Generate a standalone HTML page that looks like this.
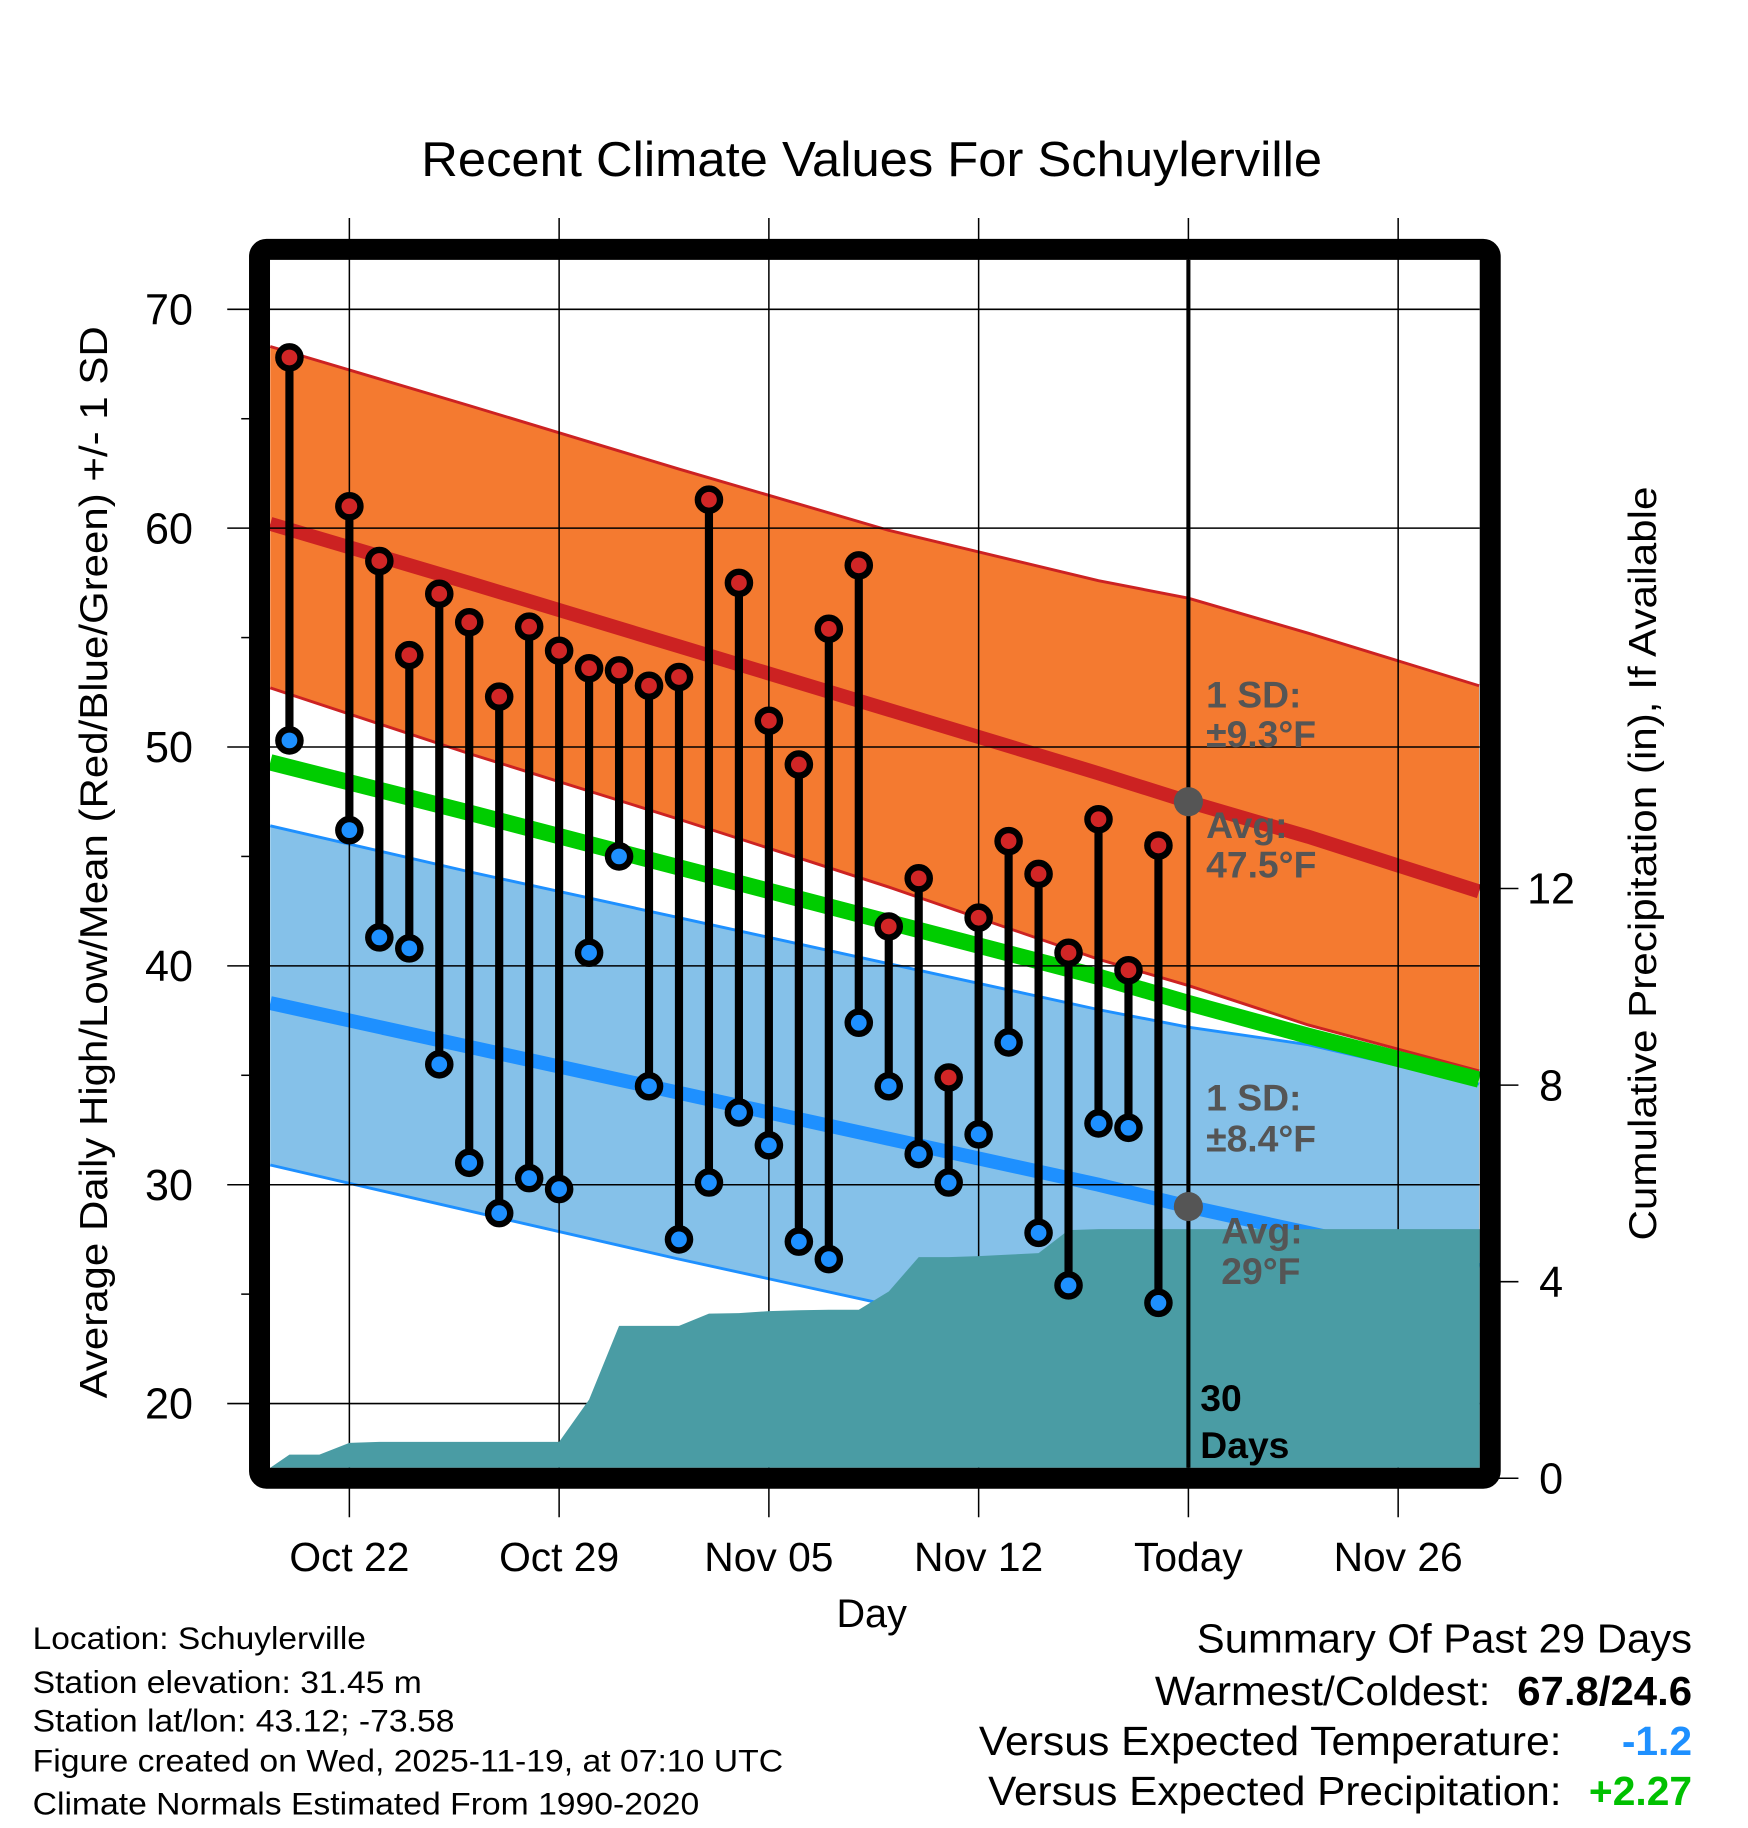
<!DOCTYPE html>
<html><head><meta charset="utf-8">
<style>
html,body{margin:0;padding:0;background:#fff;}
svg{display:block;font-family:"Liberation Sans",Arial,sans-serif;}
</style></head>
<body>
<svg id="chart" xmlns="http://www.w3.org/2000/svg" width="1748" height="1828" viewBox="0 0 1500 1568.6">
<rect width="1500" height="1568.6" fill="#fff"/>
<text x="748" y="151" font-size="42" text-anchor="middle" textLength="773" lengthAdjust="spacingAndGlyphs">Recent Climate Values For Schuylerville</text>
<g id="bands"></g>
<g id="grid"></g>
<g id="precip"></g>
<g id="marks"></g>
<g id="frame"></g>
<g id="labels"></g>
<text x="748" y="1396" font-size="34" text-anchor="middle">Day</text>
<text transform="translate(92,740) rotate(-90)" font-size="33" text-anchor="middle" textLength="920" lengthAdjust="spacingAndGlyphs">Average Daily High/Low/Mean (Red/Blue/Green) +/- 1 SD</text>
<text transform="translate(1421,741) rotate(-90)" font-size="33" text-anchor="middle" textLength="647" lengthAdjust="spacingAndGlyphs">Cumulative Precipitation (in), If Available</text>
<g font-size="27">
<text x="28" y="1415" textLength="286" lengthAdjust="spacingAndGlyphs">Location: Schuylerville</text>
<text x="28" y="1453" textLength="334" lengthAdjust="spacingAndGlyphs">Station elevation: 31.45 m</text>
<text x="28" y="1486" textLength="362" lengthAdjust="spacingAndGlyphs">Station lat/lon: 43.12; -73.58</text>
<text x="28" y="1520" textLength="644" lengthAdjust="spacingAndGlyphs">Figure created on Wed, 2025-11-19, at 07:10 UTC</text>
<text x="28" y="1557" textLength="572" lengthAdjust="spacingAndGlyphs">Climate Normals Estimated From 1990-2020</text>
</g>
<g font-size="35" text-anchor="end">
<text x="1452" y="1418" textLength="425" lengthAdjust="spacingAndGlyphs">Summary Of Past 29 Days</text>
<text x="1279" y="1463" textLength="288" lengthAdjust="spacingAndGlyphs">Warmest/Coldest:</text>
<text x="1452" y="1463" font-weight="bold" textLength="150" lengthAdjust="spacingAndGlyphs">67.8/24.6</text>
<text x="1340" y="1506" textLength="500" lengthAdjust="spacingAndGlyphs">Versus Expected Temperature:</text>
<text x="1452" y="1506" font-weight="bold" fill="#1e90ff">-1.2</text>
<text x="1340" y="1549" textLength="492" lengthAdjust="spacingAndGlyphs">Versus Expected Precipitation:</text>
<text x="1452" y="1549" font-weight="bold" fill="#00c000">+2.27</text>
</g>
</svg>
<script>
// data: day offsets relative to Oct 22
const obsDays = [-2,0,1,2,3,4,5,6,7,8,9,10,11,12,13,14,15,16,17,18,19,20,21,22,23,24,25,26,27];
const highs = [67.8,61.0,58.5,54.2,57.0,55.7,52.3,55.5,54.4,53.6,53.5,52.8,53.2,61.3,57.5,51.2,49.2,55.4,58.3,41.8,44.0,34.9,42.2,45.7,44.2,40.6,46.7,39.8,45.5];
const lows = [50.3,46.2,41.3,40.8,35.5,31.0,28.7,30.3,29.8,40.6,45.0,34.5,27.5,30.1,33.3,31.8,27.4,26.6,37.4,34.5,31.4,30.1,32.3,36.5,27.8,25.4,32.8,32.6,24.6];
const normDays = [-2.64,4,11,18,25,28,32,37.7];
const normHigh = [60.2,57.5,54.6,51.7,48.8,47.5,45.9,43.4];
const highUpper = [68.3,65.6,62.7,59.9,57.6,56.8,55.2,52.8];
const highLower = [52.7,49.7,46.7,43.6,40.3,39.1,37.3,35.2];
const normLow = [38.3,36.3,34.2,32.1,30.0,29.0,27.8,26.1];
const lowUpper = [46.4,44.3,42.2,40.1,38.0,37.2,36.4,34.6];
const lowLower = [30.9,28.8,26.6,24.5,22.3,21.4,20.1,18.5];
const normMean = [49.3,47.0,44.5,42.0,39.5,38.3,36.8,34.8];
const precipDays = [-2.64,-2.0,-1.0,0,1,2,3,4,5,6,7,8,9,10,11,12,13,14,15,16,17,18,19,20,21,22,23,24,25,26,27,28,37.7];
const precipVals = [0.2,0.48,0.48,0.72,0.74,0.74,0.74,0.74,0.74,0.74,0.74,1.6,3.1,3.1,3.1,3.35,3.36,3.4,3.42,3.43,3.43,3.8,4.5,4.5,4.52,4.55,4.58,5.05,5.07,5.07,5.07,5.07,5.07];
const xTickDays = [0,7,14,21,28,35];
const xTickLabels = ["Oct 22","Oct 29","Nov 05","Nov 12","Today","Nov 26"];
const yTicks = [20,30,40,50,60,70];
const y2Ticks = [0,4,8,12];

const L=231.7,R=1269.8,T=223,B=1259.5;
const X=d=>299.8+d*25.714;
const Y=v=>265.4+(70-v)*18.78;
const Y2=v=>1268.5-v*42.17;
const NS="http://www.w3.org/2000/svg";
function mk(tag,attrs,parent){const e=document.createElementNS(NS,tag);for(const k in attrs)e.setAttribute(k,attrs[k]);parent.appendChild(e);return e;}
const bands=document.getElementById('bands'),grid=document.getElementById('grid'),precip=document.getElementById('precip'),marks=document.getElementById('marks'),frame=document.getElementById('frame'),labels=document.getElementById('labels');
function pts(arr){return normDays.map((d,i)=>X(d)+','+Y(arr[i]));}
function band(up,lo,fill,stroke,name){
  const p=pts(up).concat(pts(lo).reverse()).join(' ');
  const e=mk('polygon',{points:p,fill:fill},bands);
  
  
  const a=mk('polyline',{points:pts(up).join(' '),fill:'none',stroke:stroke,'stroke-width':2.5},bands);
  
  
  const b=mk('polyline',{points:pts(lo).join(' '),fill:'none',stroke:stroke,'stroke-width':2.5},bands);
  
  
}
band(highUpper,highLower,'#f47a30','#cc2222','high-sd-band');
let ln=mk('polyline',{points:pts(normHigh).join(' '),fill:'none',stroke:'#cc2222','stroke-width':12},bands);


band(lowUpper,lowLower,'#85c1e9','#1e90ff','low-sd-band');
ln=mk('polyline',{points:pts(normLow).join(' '),fill:'none',stroke:'#1e90ff','stroke-width':12},bands);


ln=mk('polyline',{points:pts(normMean).join(' '),fill:'none',stroke:'#00cc00','stroke-width':14},bands);



xTickDays.forEach((d,i)=>{
  const g=mk('line',{x1:X(d),x2:X(d),y1:187,y2:1302,stroke:'#000','stroke-width':1.3},grid);
  
  
  const t=mk('text',{x:X(d),y:1348,'font-size':35,'text-anchor':'middle'},labels);
  t.textContent=xTickLabels[i];
  
  
});
yTicks.forEach(v=>{
  const g=mk('line',{x1:195,x2:R,y1:Y(v),y2:Y(v),stroke:'#000','stroke-width':1.3},grid);
  
  
  const t=mk('text',{x:145,y:Y(v)+13,'font-size':37,'text-anchor':'middle'},labels);
  t.textContent=v;
  
  
});
[25,35,45,55,65].forEach(v=>{
  const g=mk('line',{x1:207,x2:214,y1:Y(v),y2:Y(v),stroke:'#000','stroke-width':1.3},grid);
  
  
});
y2Ticks.forEach(v=>{
  const g=mk('line',{x1:1284,x2:1303,y1:Y2(v),y2:Y2(v),stroke:'#000','stroke-width':1.3},grid);
  
  
  const t=mk('text',{x:1331,y:Y2(v)+13,'font-size':37,'text-anchor':'middle'},labels);
  t.textContent=v;
  
  
});

const pp=precipDays.map((d,i)=>Math.max(L,X(d))+','+Math.min(B,Y2(precipVals[i])));
const pa=mk('polygon',{points:[L+','+B].concat(pp).concat([R+','+Math.min(B,Y2(precipVals[precipVals.length-1])),R+','+B]).join(' '),fill:'#4a9ca4'},precip);



let tl=mk('line',{x1:X(28),x2:X(28),y1:T,y2:B,stroke:'#000','stroke-width':3.5},marks);


let c1=mk('circle',{cx:X(28),cy:Y(normHigh[5]),r:12.5,fill:'#555'},marks);


let c2=mk('circle',{cx:X(28),cy:Y(normLow[5]),r:12.5,fill:'#555'},marks);


obsDays.forEach((d,i)=>{
  const x=X(d);
  const s=mk('line',{x1:x,x2:x,y1:Y(highs[i]),y2:Y(lows[i]),stroke:'#000','stroke-width':7},marks);
  
  
  [[highs[i],'#d12626','high-marker'],[lows[i],'#1e90ff','low-marker']].forEach(([v,col,nm])=>{
    const o=mk('circle',{cx:x,cy:Y(v),r:9.5,fill:col,stroke:'#000','stroke-width':5.5},marks);
    
    
  });
});
const fr=mk('rect',{x:222.7,y:214,width:1056.1,height:1054.5,rx:6,fill:'none',stroke:'#000','stroke-width':18},frame);



const ann=[["1 SD:",1035,607,'#555'],["±9.3°F",1035,641,'#555'],["Avg:",1035,719,'#555'],["47.5°F",1035,753,'#555'],
["1 SD:",1035,953,'#555'],["±8.4°F",1035,988,'#555'],["Avg:",1048,1067,'#555'],["29°F",1048,1102,'#555'],["30",1030,1211,'#000'],["Days",1030,1251,'#000']];
ann.forEach(a=>{
  const t=mk('text',{x:a[1],y:a[2],'font-size':32,'font-weight':'bold',fill:a[3]},labels);
  t.textContent=a[0];
  
  
});
</script>
</body></html>
